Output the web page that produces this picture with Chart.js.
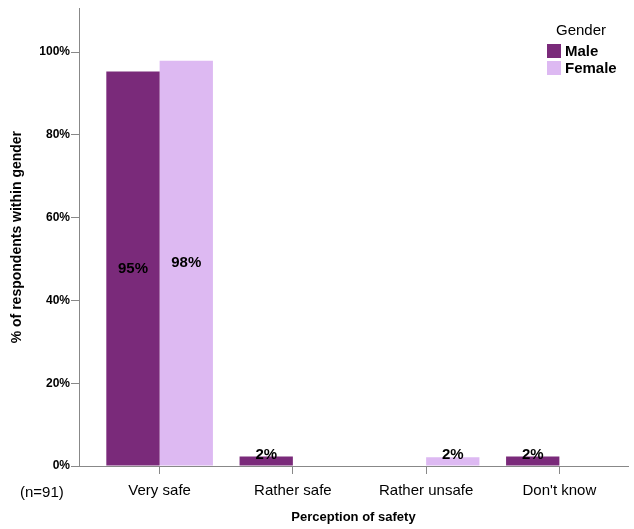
<!DOCTYPE html>
<html>
<head>
<meta charset="utf-8">
<script src="https://cdn.jsdelivr.net/npm/chart.js@4/dist/chart.umd.min.js"></script>
<style>
  body { margin: 0; background: #fff; }
  #wrap { position: relative; width: 634px; height: 529px; font-family: "Liberation Sans", Arial, sans-serif; }
  #legend { position: absolute; left: 547px; top: 21px; color: #000; }
  #legend .title { font-size: 15px; margin-left: 9px; margin-bottom: 4px; }
  #legend .item { font-size: 15px; font-weight: bold; display: flex; align-items: center; height: 17px; }
  #legend .sw { width: 14px; height: 14px; margin-right: 4px; }
  #note { position: absolute; left: 20px; top: 483px; font-size: 15px; color: #000; }
</style>
</head>
<body>
<div id="wrap">
  <canvas id="chart" width="634" height="529"></canvas>
  <div id="legend">
    <div class="title">Gender</div>
    <div class="item"><span class="sw" style="background:#7a2a7a"></span>Male</div>
    <div class="item"><span class="sw" style="background:#ddb9f2"></span>Female</div>
  </div>
  <div id="note">(n=91)</div>
</div>
<script>
// categories and values (% within gender)
let categories = ["Very safe", "Rather safe", "Rather unsafe", "Don't know"];
let maleValues = [95.3, 2.3, 0, 2.3];
let femaleValues = [97.9, 0, 2.1, 0];
let yTicks = [0, 20, 40, 60, 80, 100];

let font = "Liberation Sans";

// bar value labels, centred in the bar (kept above the axis for short bars)
const valueLabels = {
    id: 'valueLabels',
    afterDatasetsDraw(chart) {
        let ctx = chart.ctx;
        let bottom = chart.chartArea.bottom;
        ctx.save();
        ctx.font = "bold 15px " + font;
        ctx.fillStyle = "#000";
        ctx.textAlign = "center";
        ctx.textBaseline = "middle";
        chart.data.datasets.forEach((ds, i) => {
            chart.getDatasetMeta(i).data.forEach((bar, j) => {
                let v = ds.data[j].y;
                if (!v) return;
                let y = Math.min((bar.y + bar.base) / 2, bottom - 11);
                ctx.fillText(Math.round(v) + "%", bar.x, y);
            });
        });
        ctx.restore();
    }
};

let ctx = document.getElementById("chart").getContext("2d");
new Chart(ctx, {
    type: 'bar',
    data: {
        datasets: [
            {
                label: 'Male',
                data: maleValues.map((v, i) => ({ x: i, y: v })),
                backgroundColor: '#7a2a7a',
                borderWidth: 0
            },
            {
                label: 'Female',
                data: femaleValues.map((v, i) => ({ x: i, y: v })),
                backgroundColor: '#ddb9f2',
                borderWidth: 0
            }
        ]
    },
    options: {
        responsive: false,
        animation: false,
        layout: { padding: { top: 8, right: 6, left: 0, bottom: 0 } },
        datasets: { bar: { categoryPercentage: 0.8, barPercentage: 1.0 } },
        plugins: {
            legend: { display: false },
            tooltip: { enabled: false }
        },
        scales: {
            x: {
                type: 'linear',
                offset: false,
                min: -0.605,
                max: 3.515,
                afterBuildTicks: s => { s.ticks = categories.map((c, i) => ({ value: i })); },
                afterFit: s => { s.height = 63; },
                ticks: {
                    callback: v => categories[v],
                    font: { family: font, size: 15 },
                    color: '#000',
                    padding: 8,
                    maxRotation: 0
                },
                grid: { offset: false, drawOnChartArea: false, tickLength: 8, color: '#888' },
                border: { color: '#888' },
                title: {
                    display: true,
                    text: 'Perception of safety',
                    font: { family: font, size: 13, weight: 'bold' },
                    color: '#000',
                    padding: { top: 2, bottom: 4 }
                }
            },
            y: {
                min: 0,
                max: 110.6,
                afterBuildTicks: s => { s.ticks = yTicks.map(v => ({ value: v })); },
                afterFit: s => { s.width = 79; },
                ticks: {
                    callback: v => v + '%',
                    font: { family: font, size: 12, weight: 'bold' },
                    color: '#000',
                    padding: 1
                },
                grid: { drawOnChartArea: false, tickLength: 8, color: '#888' },
                border: { color: '#888' },
                title: {
                    display: true,
                    text: '% of respondents within gender',
                    font: { family: font, size: 14, weight: 'bold' },
                    color: '#000',
                    padding: { top: 9, bottom: 8 }
                }
            }
        }
    },
    plugins: [valueLabels]
});
</script>
</body>
</html>
